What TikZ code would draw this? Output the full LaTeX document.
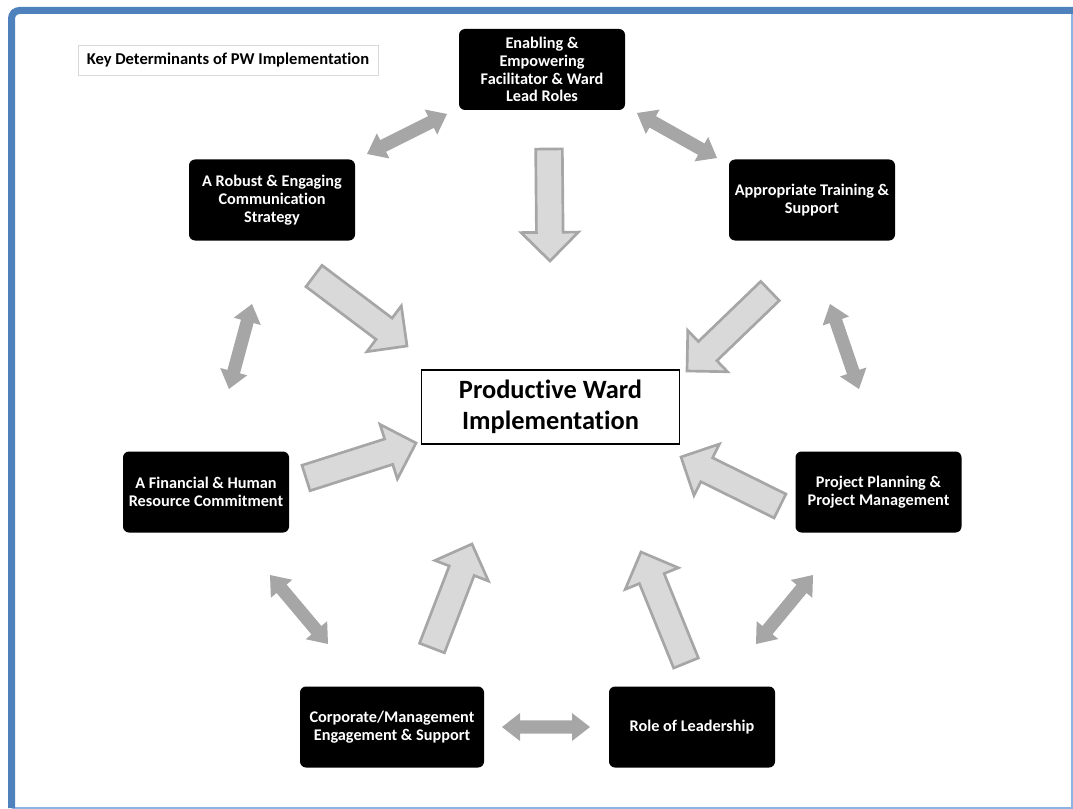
\documentclass[tikz,border=0pt]{standalone}
\usepackage{fontspec}
\setmainfont{Carlito}[Ligatures=NoCommon]
\usetikzlibrary{calc}
\definecolor{frameblue}{HTML}{4F81BD}
\definecolor{framelight}{HTML}{8DB3E2}
\definecolor{linkgray}{HTML}{A6A6A6}
\definecolor{pushfill}{HTML}{D9D9D9}
\definecolor{pushborder}{HTML}{A6A6A6}
\definecolor{titleborder}{HTML}{D9D9D9}
\tikzset{
  factor/.style={
    rectangle,
    rounded corners=4.5pt,
    fill=black,
    text=white,
    align=center,
    inner sep=2pt,
    minimum width=124.5pt,
    minimum height=60.75pt,
    font=\fontsize{12.2}{13.3}\selectfont\bfseries
  },
  core/.style={rectangle, draw=black, line width=0.8pt, fill=white, align=center, minimum width=194pt, minimum height=55.5pt, font=\fontsize{19.8}{23.5}\selectfont\bfseries},
  heading/.style={rectangle, draw=titleborder, line width=0.6pt, fill=white, minimum width=225pt, minimum height=22.5pt, font=\fontsize{12.4}{14}\selectfont\bfseries},
  link/.style={fill=linkgray},
  push/.style={fill=pushfill, draw=pushborder, line width=2pt, line join=miter}
}

\begin{document}
\begin{tikzpicture}[x=0.75pt, y=-0.75pt]
\useasboundingbox (0,0) rectangle (1073,809);

% Frame.
\draw[framelight, line width=1.5pt] (11.5,10.5) -- (1072,10.5) -- (1072,807.5) -- (11.5,807.5);
\draw[frameblue, line width=5.25pt, rounded corners=6pt] (11.5,808) -- (11.5,10.5) -- (1073,10.5);

% Title.
\node[heading] (title) at (228,60) {Key Determinants of PW Implementation};

% Determinants.
\node[factor] (enabling) at (542,69.5) {Enabling \&\\Empowering\\Facilitator \& Ward\\Lead Roles};
\node[factor] (communication) at (272,200) {A Robust \& Engaging\\Communication\\Strategy};
\node[factor] (training) at (812,200) {Appropriate Training \&\\Support};
\node[factor] (financial) at (206,492) {A Financial \& Human\\Resource Commitment};
\node[factor] (planning) at (878.5,492) {Project Planning \&\\Project Management};
\node[factor, minimum width=138pt] (corporate) at (392,727) {Corporate/Management\\Engagement \& Support};
\node[factor] (leadership) at (692,727) {Role of Leadership};

% Centre.
\node[core] (pw) at (550.5,407) {Productive Ward\\Implementation};

% Arrow end points.
\coordinate (t1) at (549,149);  \coordinate (p1) at (550,261);
\coordinate (t2) at (314,276);  \coordinate (p2) at (407,346);
\coordinate (t3) at (770,291);  \coordinate (p3) at (687,371);
\coordinate (t4) at (306,478);  \coordinate (p4) at (416,443);
\coordinate (t5) at (780,506);  \coordinate (p5) at (681,457);
\coordinate (t6) at (432,648);  \coordinate (p6) at (472,544);
\coordinate (t7) at (686,663);  \coordinate (p7) at (641,552);

\coordinate (e1a) at (367,154); \coordinate (e1b) at (447,114);
\coordinate (e2a) at (637,113); \coordinate (e2b) at (717,158);
\coordinate (e3a) at (252,304); \coordinate (e3b) at (229,389);
\coordinate (e4a) at (830,304); \coordinate (e4b) at (859,389);
\coordinate (e5a) at (270,575); \coordinate (e5b) at (328,644);
\coordinate (e6a) at (813,575); \coordinate (e6b) at (756,644);
\coordinate (e7a) at (502,727); \coordinate (e7b) at (590,727);

% Links between determinants.
\foreach \a/\b in {e1a/e1b,e2a/e2b,e3a/e3b,e4a/e4b,e5a/e5b,e6a/e6b,e7a/e7b} {
  \coordinate (ha) at ($(\a)!13.5pt!(\b)$);
  \coordinate (hb) at ($(\b)!13.5pt!(\a)$);
  \fill[link] (\a) -- ($(ha)!10.5pt!90:(\b)$) -- ($(ha)!4.9pt!90:(\b)$)
    -- ($(hb)!4.9pt!90:(\b)$) -- ($(hb)!10.5pt!90:(\b)$) -- (\b)
    -- ($(hb)!10.5pt!-90:(\b)$) -- ($(hb)!4.9pt!-90:(\b)$)
    -- ($(ha)!4.9pt!-90:(\b)$) -- ($(ha)!10.5pt!-90:(\b)$) -- cycle;
}

% Arrows into the centre.
\foreach \a/\b in {t1/p1,t2/p2,t3/p3,t4/p4,t5/p5,t6/p6,t7/p7} {
  \coordinate (hh) at ($(\b)!21.5pt!(\a)$);
  \draw[push] ($(\a)!10pt!90:(\b)$) -- ($(hh)!10pt!90:(\b)$) -- ($(hh)!21.5pt!90:(\b)$)
    -- (\b) -- ($(hh)!21.5pt!-90:(\b)$) -- ($(hh)!10pt!-90:(\b)$)
    -- ($(\a)!10pt!-90:(\b)$) -- cycle;
}

\end{tikzpicture}
\end{document}
